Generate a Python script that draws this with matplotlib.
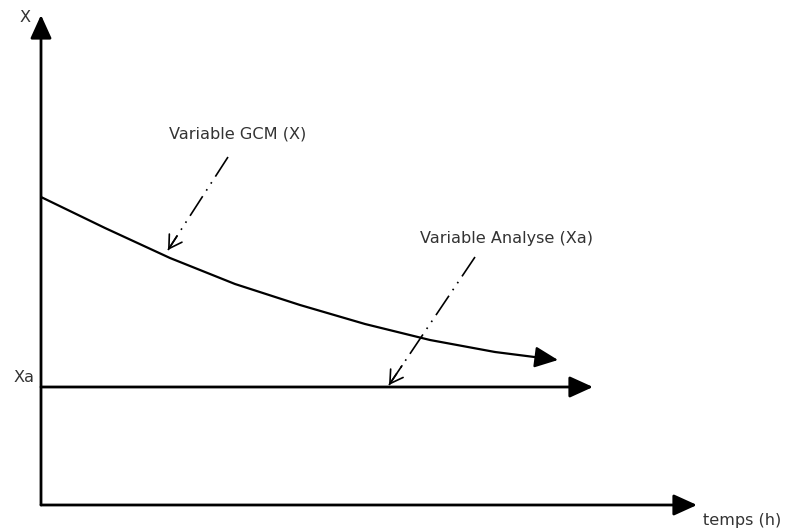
import matplotlib.pyplot as plt

# diagram drawn in pixel-like coordinates (y grows downward)
curve_x = [41, 105, 170, 235, 300, 365, 430, 495, 558]
curve_y = [197, 228, 258, 284, 305, 324, 340, 352, 360]

origin = (41, 505)
y_axis_top = 15
x_axis_end = 697
xa_level = 387
xa_end = 593

gcm_pointer = [(228, 157), (168, 250)]
analyse_pointer = [(475, 257), (389, 385)]

labels = {
    'X': (25, 18),
    'Xa': (24, 377),
    'temps (h)': (703, 521),
    'Variable GCM (X)': (169, 134),
    'Variable Analyse (Xa)': (420, 239),
}

fig = plt.figure(figsize=(7.85, 5.29), dpi=100)
ax = fig.add_axes([0, 0, 1, 1])
ax.set_xlim(0, 785)
ax.set_ylim(529, 0)
ax.axis('off')

solid_head = dict(arrowstyle='-|>,head_length=0.55,head_width=0.25',
                  color='black', lw=2.0, mutation_scale=26, shrinkA=0, shrinkB=0)

# axes
ax.annotate('', xy=(origin[0], y_axis_top), xytext=origin, arrowprops=solid_head)
ax.annotate('', xy=(x_axis_end, origin[1]), xytext=origin, arrowprops=solid_head)

# Xa horizontal line
ax.annotate('', xy=(xa_end, xa_level), xytext=(origin[0], xa_level), arrowprops=solid_head)

# GCM curve
ax.plot(curve_x[:-1], curve_y[:-1], color='black', lw=1.6,
        solid_joinstyle='round', solid_capstyle='butt')
ax.annotate('', xy=(curve_x[-1], curve_y[-1]), xytext=(curve_x[-2], curve_y[-2]),
            arrowprops=dict(solid_head, lw=1.6))

# dash-dot pointers with open heads
for (x0, y0), (x1, y1) in [gcm_pointer, analyse_pointer]:
    ax.plot([x0, x1], [y0, y1], color='black', lw=1.2, dashes=(14, 4, 1, 4, 1, 4))
    ax.annotate('', xy=(x1, y1), xytext=(x1 + (x0 - x1) * 0.15, y1 + (y0 - y1) * 0.15),
                arrowprops=dict(arrowstyle='->,head_length=0.5,head_width=0.3',
                                color='black', lw=1.2, mutation_scale=18,
                                shrinkA=0, shrinkB=0))

for text, (tx, ty) in labels.items():
    if text in ('X', 'Xa'):
        ax.text(tx, ty, text, ha='center', va='center', fontsize=11.6, color='#333333')
    else:
        ax.text(tx, ty, text, ha='left', va='center', fontsize=11.6, color='#333333')

fig.savefig('out.png', dpi=100)
